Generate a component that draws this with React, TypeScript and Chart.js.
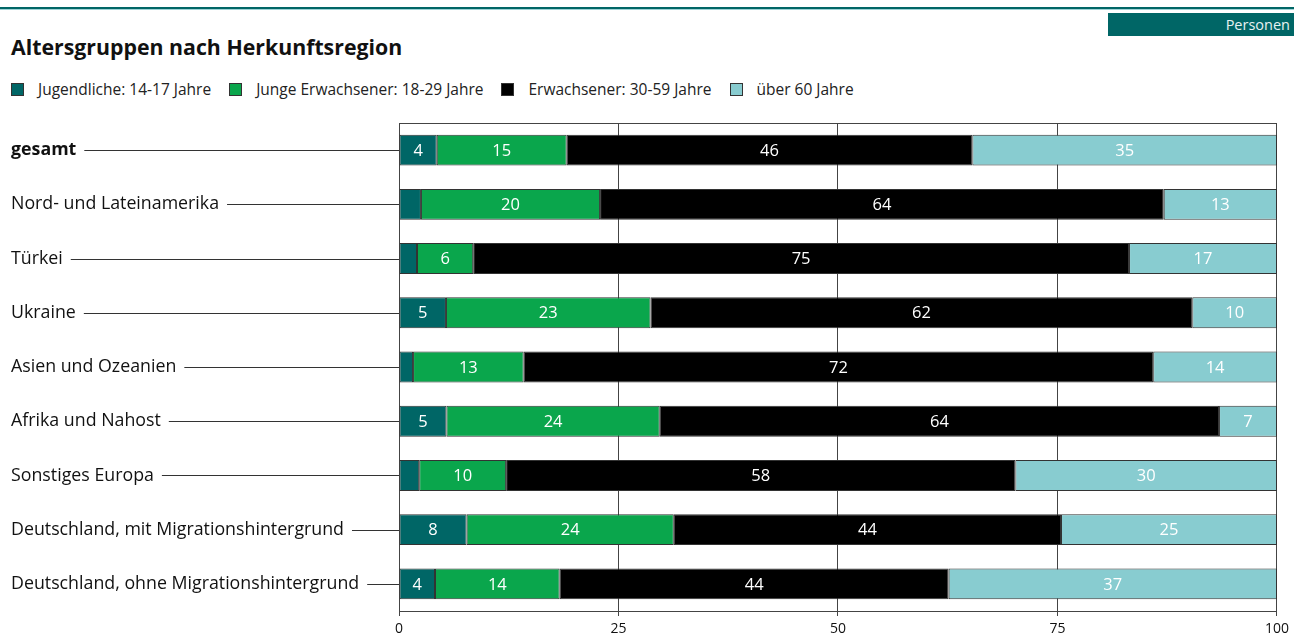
import React, { useEffect, useRef } from "react";
import { Chart, registerables } from "chart.js";

Chart.register(...registerables);

const title = "Altersgruppen nach Herkunftsregion";
const unitLabel = "Personen";

const categories = [
  "gesamt",
  "Nord- und Lateinamerika",
  "Türkei",
  "Ukraine",
  "Asien und Ozeanien",
  "Afrika und Nahost",
  "Sonstiges Europa",
  "Deutschland, mit Migrationshintergrund",
  "Deutschland, ohne Migrationshintergrund",
];

const seriesNames = [
  "Jugendliche: 14-17 Jahre",
  "Junge Erwachsener: 18-29 Jahre",
  "Erwachsener: 30-59 Jahre",
  "über 60 Jahre",
];

const jugendliche = [4.3, 2.5, 2.05, 5.35, 1.6, 5.4, 2.3, 7.7, 4.1];
const jungeErwachsene = [14.8, 20.4, 6.4, 23.3, 12.6, 24.3, 9.9, 23.6, 14.2];
const erwachsene = [46.2, 64.2, 74.7, 61.7, 71.7, 63.7, 58.0, 44.1, 44.3];
const ueber60 = [34.7, 12.9, 16.85, 9.65, 14.1, 6.6, 29.8, 24.6, 37.4];

const xTicks = [0, 25, 50, 75, 100];

const colors = ["#006666", "#0aa64c", "#000000", "#88ccd0"];

const FONT = "'Open Sans', 'Noto Sans', sans-serif";
const LABEL_SIZE = 17.8;

export default function App() {
  const canvasRef = useRef<HTMLCanvasElement | null>(null);

  useEffect(() => {
    const canvas = canvasRef.current;
    if (!canvas) return;

    const labelPlugin = {
      id: "segmentLabels",
      afterDatasetsDraw(chart: any) {
        const ctx = chart.ctx;
        ctx.save();
        ctx.font = `16.5px ${FONT}`;
        ctx.fillStyle = "#ffffff";
        ctx.textAlign = "center";
        ctx.textBaseline = "middle";
        chart.data.datasets.forEach((ds: any, di: number) => {
          const meta = chart.getDatasetMeta(di);
          meta.data.forEach((el: any, i: number) => {
            const v = ds.data[i];
            if (v < 3.5) return;
            const p = el.getProps(["x", "base", "y"], true);
            ctx.fillText(String(Math.round(v)), (p.x + p.base) / 2, p.y + 1);
          });
        });
        ctx.restore();
      },
    };

    const framePlugin = {
      id: "frameAndConnectors",
      afterDraw(chart: any) {
        const ctx = chart.ctx;
        const area = chart.chartArea;
        const yScale = chart.scales.y;
        ctx.save();
        ctx.strokeStyle = "#444444";
        ctx.lineWidth = 1;
        ctx.beginPath();
        ctx.moveTo(area.left, Math.round(area.top) + 0.5);
        ctx.lineTo(area.right, Math.round(area.top) + 0.5);
        ctx.stroke();
        ctx.strokeStyle = "#333333";
        categories.forEach((c, i) => {
          ctx.font = i === 0 ? `bold ${LABEL_SIZE}px ${FONT}` : `${LABEL_SIZE}px ${FONT}`;
          const w = ctx.measureText(c).width;
          const y = Math.round(yScale.getPixelForValue(i)) + 0.5;
          ctx.beginPath();
          ctx.moveTo(11 + w + 8, y);
          ctx.lineTo(area.left, y);
          ctx.stroke();
        });
        ctx.restore();
      },
    };

    const data = [jugendliche, jungeErwachsene, erwachsene, ueber60];

    const chart = new Chart(canvas, {
      type: "bar",
      data: {
        labels: categories,
        datasets: seriesNames.map((name, k) => ({
          label: name,
          data: data[k],
          backgroundColor: colors[k],
          borderColor: "#333333",
          borderWidth: 1,
          borderSkipped: false,
          barPercentage: 0.57,
          categoryPercentage: 1,
        })),
      },
      options: {
        indexAxis: "y",
        responsive: false,
        animation: false,
        devicePixelRatio: 1,
        layout: { padding: { left: 11, right: 17, top: 23, bottom: 0 } },
        plugins: {
          legend: { display: false },
          title: { display: false },
          tooltip: { enabled: false },
        },
        scales: {
          x: {
            stacked: true,
            min: 0,
            max: 100,
            afterBuildTicks: (scale: any) => {
              scale.ticks = xTicks.map((v) => ({ value: v }));
            },
            afterFit: (scale: any) => {
              scale.height = 24;
            },
            ticks: {
              font: { family: FONT, size: 14 },
              color: "#111111",
              padding: 5,
            },
            grid: {
              color: "#444444",
              lineWidth: 1,
              tickLength: 5,
              drawOnChartArea: true,
            },
            border: { display: true, color: "#444444" },
          },
          y: {
            stacked: true,
            afterFit: (scale: any) => {
              scale.width = 388;
            },
            ticks: {
              crossAlign: "far",
              font: (ctx: any) => ({
                family: FONT,
                size: LABEL_SIZE,
                weight: ctx.index === 0 ? "bold" : "normal",
              }),
              color: "#111111",
            },
            grid: { display: false },
            border: { display: true, color: "#444444" },
          },
        },
      },
      plugins: [labelPlugin, framePlugin],
    });

    return () => chart.destroy();
  }, []);

  return (
    <div
      style={{
        position: "absolute",
        left: 0,
        top: 0,
        width: 1294,
        height: 635,
        background: "#ffffff",
        fontFamily: FONT,
        overflow: "hidden",
      }}
    >
      <div style={{ position: "absolute", left: 0, top: 7, width: 1294, height: 2, background: "#006666" }} />
      <div style={{ position: "absolute", left: 0, top: 9, width: 1294, height: 1, background: "#9fd3d6" }} />
      <div
        style={{
          position: "absolute",
          left: 1108,
          top: 13,
          width: 186,
          height: 23,
          background: "#006666",
          color: "#e6f2f2",
          fontSize: 14.5,
          lineHeight: "23px",
          textAlign: "right",
          paddingRight: 4,
          boxSizing: "border-box",
        }}
      >
        {unitLabel}
      </div>
      <div
        style={{
          position: "absolute",
          left: 11,
          top: 33,
          fontSize: 21.3,
          fontWeight: 700,
          color: "#111111",
          lineHeight: "28px",
          whiteSpace: "nowrap",
        }}
      >
        {title}
      </div>
      <div style={{ position: "absolute", left: 11, top: 80, height: 18, display: "flex", alignItems: "center" }}>
        {seriesNames.map((name, k) => (
          <div key={name} style={{ display: "flex", alignItems: "center", marginRight: 18 }}>
            <span
              style={{
                display: "inline-block",
                width: 13,
                height: 13,
                background: colors[k],
                border: "1px solid #333333",
                boxSizing: "border-box",
                marginRight: 14,
              }}
            />
            <span style={{ fontSize: 15.5, color: "#222222", whiteSpace: "nowrap" }}>{name}</span>
          </div>
        ))}
      </div>
      <canvas
        ref={canvasRef}
        width={1294}
        height={535}
        style={{ position: "absolute", left: 0, top: 100, width: 1294, height: 535 }}
      />
    </div>
  );
}
